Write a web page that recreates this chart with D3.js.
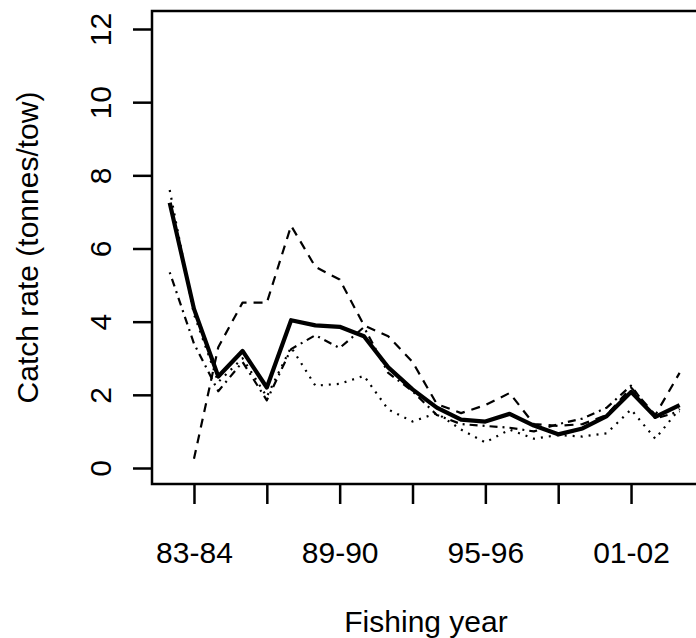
<!DOCTYPE html>
<html><head><meta charset="utf-8">
<script src="https://cdn.jsdelivr.net/npm/d3@7/dist/d3.min.js"></script>
<style>
html,body{margin:0;padding:0;background:#fff;}
svg{display:block;}
text{font-family:"Liberation Sans",Arial,sans-serif;fill:#000;}
</style></head>
<body><svg id="chart" width="696" height="638"></svg>
<script>
// Fishing years 82-83 .. 03-04
const years = ["82-83","83-84","84-85","85-86","86-87","87-88","88-89","89-90","90-91","91-92","92-93","93-94","94-95","95-96","96-97","97-98","98-99","99-00","00-01","01-02","02-03","03-04"];
const tickYears = ["83-84","86-87","89-90","92-93","95-96","98-99","01-02"];
const labelYears = ["83-84","89-90","95-96","01-02"];
const yTicks = [0,2,4,6,8,10,12];

const solid   = [7.25,4.35,2.5,3.2,2.2,4.04,3.9,3.86,3.6,2.75,2.15,1.65,1.32,1.27,1.48,1.16,0.92,1.08,1.42,2.08,1.4,1.72];
const dashed  = [null,0.25,3.3,4.52,4.52,6.62,5.5,5.15,3.9,3.6,2.9,1.75,1.5,1.72,2.05,1.2,1.15,1.2,1.45,2.2,1.45,2.6];
const dotted  = [7.6,4.2,2.35,3.0,1.95,3.3,2.25,2.3,2.52,1.6,1.27,1.5,1.05,0.7,1.05,0.8,0.9,0.86,0.95,1.6,0.8,1.62];
const dotdash = [5.35,3.4,2.1,2.9,1.85,3.25,3.63,3.28,3.85,2.6,2.1,1.45,1.2,1.15,1.1,1.0,1.2,1.35,1.65,2.25,1.35,1.55];

(function(){
const svg = d3.select("#chart");
const pL = 152, pR = 700, pT = 11, pB = 484;

const x = d3.scalePoint().domain(years).range([169.7, 679.6]);
const y = d3.scaleLinear().domain([0,12]).range([468, 29]);

// box
svg.append("rect").attr("x",pL).attr("y",pT).attr("width",pR-pL).attr("height",pB-pT)
  .attr("fill","none").attr("stroke","#000").attr("stroke-width",2.5);

// y axis
const yAxis = svg.append("g").attr("transform",`translate(${pL},0)`)
  .call(d3.axisLeft(y).tickValues(yTicks).tickSize(19).tickPadding(0).tickFormat(d3.format("d")));
yAxis.select(".domain").remove();
yAxis.selectAll(".tick line").attr("stroke","#000").attr("stroke-width",2.5);
yAxis.selectAll(".tick text").attr("x",null).attr("dy",null).attr("y",null)
  .attr("transform","translate(-41,0) rotate(-90)").attr("text-anchor","middle")
  .style("font-size","30px");

// x axis
const xAxis = svg.append("g").attr("transform",`translate(0,${pB})`)
  .call(d3.axisBottom(x).tickValues(tickYears).tickSize(20).tickPadding(0)
    .tickFormat(d => labelYears.includes(d) ? d : ""));
xAxis.select(".domain").remove();
xAxis.selectAll(".tick line").attr("stroke","#000").attr("stroke-width",2.5);
xAxis.selectAll(".tick text").attr("y",79).attr("dy",null).style("font-size","30px");

// axis titles
svg.append("text").attr("transform",`translate(38,${(pT+pB)/2}) rotate(-90)`)
  .attr("text-anchor","middle").style("font-size","30px").text("Catch rate (tonnes/tow)");
svg.append("text").attr("x",(pL+pR)/2).attr("y",632).attr("text-anchor","middle")
  .style("font-size","30px").text("Fishing year");

const line = d3.line().defined(d => d[1] != null).x(d => x(d[0])).y(d => y(d[1]));
const series = [
  {v: dotted,  w: 2.2, dash: "2,6"},
  {v: dotdash, w: 2.2, dash: "2,5,8,5"},
  {v: dashed,  w: 2.2, dash: "9,7"},
  {v: solid,   w: 4.2, dash: null}
];
series.forEach(s => {
  svg.append("path").datum(years.map((yr,i) => [yr, s.v[i]]))
    .attr("d", line).attr("fill","none").attr("stroke","#000")
    .attr("stroke-width", s.w).attr("stroke-dasharray", s.dash)
    .attr("stroke-linejoin","round");
});
})();
</script></body></html>
